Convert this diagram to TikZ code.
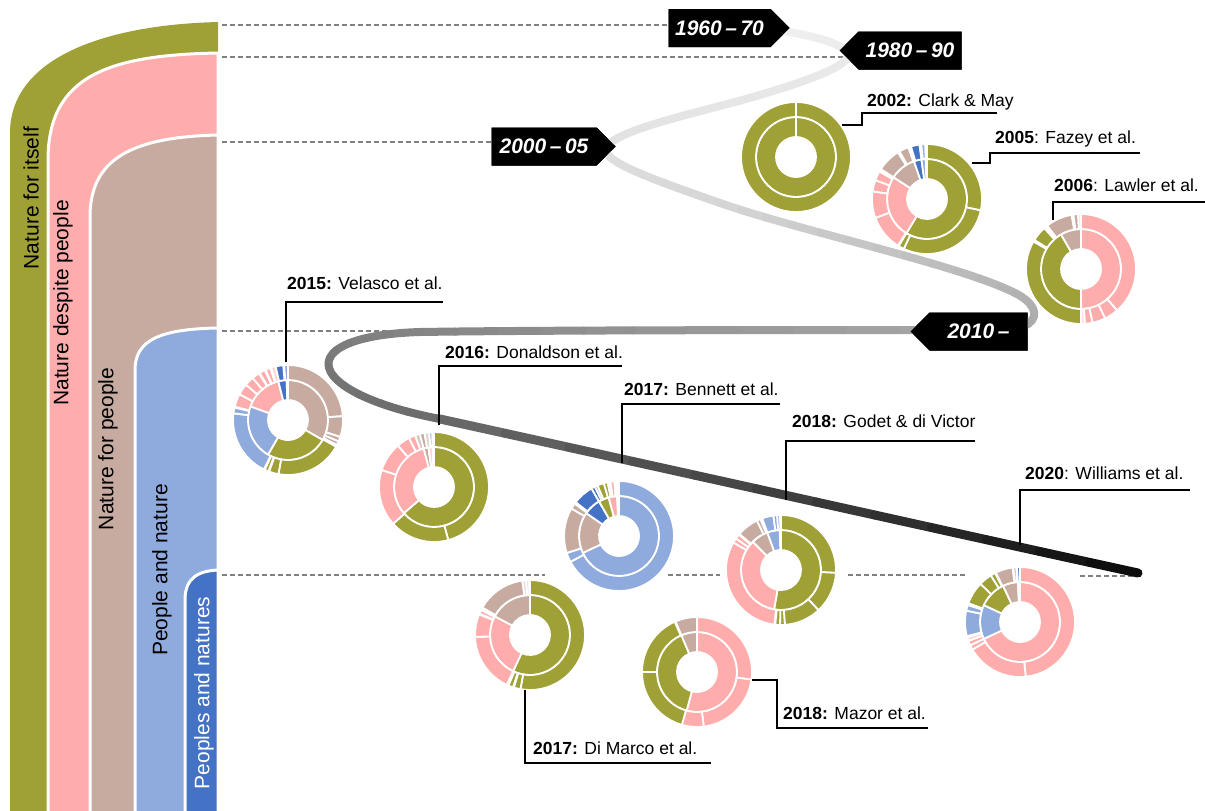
\documentclass[tikz,border=0pt]{standalone}
\usepackage{xcolor}
\usepackage{fontspec}
\setmainfont{Liberation Sans}
\usepackage{tikz}
\usetikzlibrary{shapes.symbols}
\definecolor{NI}{HTML}{9FA036}
\definecolor{ND}{HTML}{FFACAC}
\definecolor{NP}{HTML}{C7ABA0}
\definecolor{PN}{HTML}{8FAADC}
\definecolor{PS}{HTML}{4472C4}
\definecolor{DG}{HTML}{7F7F7F}
% ring piece: inner radius, outer radius, from, to (degrees clockwise from top), colour
\newcommand{\rpiece}[5]{\filldraw[fill=#5, draw=white, line width=1.8pt] (#3-90:#1) arc[start angle=#3-90, end angle=#4-90, radius=#1] -- (#4-90:#2) arc[start angle=#4-90, end angle=#3-90, radius=#2] -- cycle;}
\newcommand{\inring}[3]{\rpiece{20}{40}{#1}{#2}{#3}}
\newcommand{\outring}[3]{\rpiece{40}{55}{#1}{#2}{#3}}
% piece of the time line, grey from #5 to #6 percent black
\newcommand{\tlpiece}[6]{%
\foreach \k in {0,...,11}{%
\pgfmathsetmacro{\tA}{\k/12}\pgfmathsetmacro{\tB}{(\k+1)/12}%
\pgfmathsetmacro{\grv}{#5+(#6-#5)*(\k+0.5)/12}%
\pgfsetcolor{black!\grv}%
\pgfpathcurvebetweentime{\tA}{\tB}{\pgfpointxy#1}{\pgfpointxy#2}{\pgfpointxy#3}{\pgfpointxy#4}%
\pgfusepath{stroke}}}

\begin{document}
\begin{tikzpicture}[x=1pt, y=-1pt,
  band/.style={draw=white, line width=3pt},
  bandtext/.style={rotate=90, font=\fontsize{21}{24}\selectfont},
  era/.style={signal, fill=black, text=white, inner sep=0pt, minimum height=38pt, font=\bfseries\itshape\fontsize{21}{24}\selectfont},
  guide/.style={draw=DG, dash pattern=on 5pt off 3pt, line width=1.2pt},
  leader/.style={draw=black, line width=2pt},
  lab/.style={anchor=base west, inner sep=0pt, font=\fontsize{17.5}{21}\selectfont}]%
\useasboundingbox (0,0) rectangle (1205,811);%
% bands
\fill[NI] (10,815) -- (10,133) .. controls (10,60) and (100,25) .. (218,22) -- (218,815) -- cycle;%
\filldraw[band, fill=ND] (48,815) -- (48,160) .. controls (48,75) and (110,55) .. (218,53) -- (218,815) -- cycle;%
\filldraw[band, fill=NP] (90,815) -- (90,217) .. controls (90,160) and (130,137) .. (218,135) -- (218,815) -- cycle;%
\filldraw[band, fill=PN] (135,815) -- (135,370) .. controls (135,340) and (160,329) .. (218,328) -- (218,815) -- cycle;%
\filldraw[band, fill=PS] (185,815) -- (185,600) .. controls (185,578) and (198,571) .. (218,570) -- (218,815) -- cycle;%
\node[bandtext] (nfi) at (31,198) {Nature for itself};%
\node[bandtext] (ndp) at (63,303) {Nature despite people};%
\node[bandtext] (nfp) at (108,449) {Nature for people};%
\node[bandtext] (pan) at (162,570) {People and nature};%
\node[bandtext, text=white] (pans) at (204,693) {Peoples and natures};%
% era boxes (placed first so the guides can end on them)
\node[era, signal to=east, minimum width=121pt] (e60) at (719.5,28) {};%
\node[era, signal to=west, minimum width=122pt] (e80) at (910,50.5) {};%
\node[era, signal to=east, minimum width=124pt] (e00) at (544,146.5) {};%
\node[era, signal to=west, minimum width=117pt] (e10) at (978.5,331.5) {};%
% guides
\coordinate (g1) at (222,25);%
\coordinate (g2) at (222,57);%
\coordinate (g3) at (222,142);%
\coordinate (g4) at (222,331);%
\coordinate (g5) at (222,575);%
\draw[guide] (g1) -- (g1 -| e60.west);%
\draw[guide] (g2) -- ++(623,0);%
\draw[guide] (g3) -- (g3 -| e00.west);%
\draw[guide] (g4) -- ++(188,0);%
\draw[guide] (g5) -- ++(323,0) (g5) ++(446,0) -- ++(52,0) (g5) ++(626,0) -- ++(117,0) (g5) ++(858,1) -- ++(62,0);%
% time line
\begin{scope}[line width=8pt, line cap=round]%
\tlpiece{{777}{30}}{{815}{36}}{{846}{44}}{{848}{55}}{6}{8}%
\tlpiece{{848}{55}}{{850}{66}}{{800}{85}}{{720}{106}}{8}{10}%
\tlpiece{{720}{106}}{{650}{124}}{{600}{138}}{{607}{153}}{10}{12}%
\tlpiece{{607}{153}}{{612}{165}}{{660}{182}}{{720}{203}}{12}{16}%
\tlpiece{{720}{203}}{{800}{231}}{{960}{265}}{{1015}{293}}{16}{30}%
\tlpiece{{1015}{293}}{{1045}{308}}{{1040}{330}}{{1000}{330}}{30}{34}%
\tlpiece{{1000}{330}}{{800}{330}}{{550}{330}}{{420}{332}}{34}{48}%
\tlpiece{{420}{332}}{{290}{336}}{{300}{392}}{{440}{419}}{48}{58}%
\end{scope}%
\begin{scope}[line width=9pt, line cap=round]%
\tlpiece{{440}{419}}{{700}{476}}{{950}{532}}{{1138}{573}}{58}{96}%
\end{scope}%
\node[era, signal to=east, minimum width=121pt] at (e60) {1960\,–\,70};%
\node[era, signal to=west, minimum width=122pt] at (e80) {1980\,–\,90};%
\node[era, signal to=east, minimum width=124pt] at (e00) {2000\,–\,05};%
\node[era, signal to=west, minimum width=117pt] at (e10) {2010\,–};%
% donuts
\coordinate (dcm) at (796,157);%
\coordinate (dfz) at (927,199);%
\coordinate (dlw) at (1081,269);%
\coordinate (dvl) at (288,420);%
\coordinate (ddn) at (434,487);%
\coordinate (dbn) at (619,536);%
\coordinate (dgd) at (781,570);%
\coordinate (dwl) at (1020,622);%
\coordinate (ddm) at (530,635);%
\coordinate (dmz) at (697,672);%
\begin{scope}[shift={(dcm)}]% Clark & May
\inring{0}{360}{NI}\outring{0}{360}{NI}%
\end{scope}%
\begin{scope}[shift={(dfz)}]% Fazey
\inring{0}{211}{NI}\inring{211}{303}{ND}\inring{303}{341}{NP}\inring{341}{352}{PS}\inring{352}{358}{PN}%
\outring{0}{102}{NI}\outring{102}{205}{NI}\outring{205}{211}{NI}\outring{212}{250}{ND}\outring{250}{278}{ND}\outring{278}{290}{ND}\outring{290}{300}{ND}\outring{303}{328}{NP}\outring{330}{340}{NP}\outring{343}{352}{PS}\outring{354}{358}{PN}%
\end{scope}%
\begin{scope}[shift={(dlw)}]% Lawler
\inring{0}{180}{ND}\inring{180}{330}{NI}\inring{330}{360}{NP}%
\outring{0}{139}{ND}\outring{139}{154}{ND}\outring{154}{168}{ND}\outring{168}{176}{ND}\outring{176}{180}{ND!40}\outring{180}{300}{NI}\outring{302}{318}{NI}\outring{322}{350}{NP}\outring{352}{357}{NP}\outring{357}{360}{ND!40}%
\end{scope}%
\begin{scope}[shift={(dvl)}]% Velasco
\inring{0}{120}{NP}\inring{120}{210}{NI}\inring{210}{290}{PN}\inring{290}{346}{ND}\inring{346}{358}{PS}\inring{358}{360}{PN}%
\outring{0}{86}{NP}\outring{86}{108}{NP}\outring{108}{113}{NP}\outring{113}{117}{NP}\outring{119}{190}{NI}\outring{190}{200}{NI}\outring{201}{205}{NI}\outring{206}{277}{PN}\outring{277}{283}{PN}\outring{284}{298}{ND}\outring{298}{310}{ND}\outring{310}{320}{ND}\outring{320}{328}{ND}\outring{329}{335}{ND}\outring{336}{341}{ND}\outring{342}{347}{ND!50}\outring{347}{355}{PS}\outring{356}{360}{PN}%
\end{scope}%
\begin{scope}[shift={(ddn)}]% Donaldson
\inring{0}{229}{NI}\inring{229}{345}{ND}\inring{345}{352}{NP}\inring{352}{358}{ND!50}%
\outring{0}{165}{NI}\outring{165}{228}{NI}\outring{228}{288}{ND}\outring{288}{319}{ND}\outring{319}{333}{ND}\outring{333}{340}{ND}\outring{340}{345}{NP!70}\outring{345}{350}{NP}\outring{350}{355}{NP!50}\outring{355}{358}{PN}%
\end{scope}%
\begin{scope}[shift={(dbn)}]% Bennett
\inring{0}{245}{PN}\inring{245}{305}{NP}\inring{305}{330}{PS}\inring{330}{345}{NI}\inring{345}{357}{ND}%
\outring{0}{242}{PN}\outring{242}{252}{PN}\outring{252}{300}{NP}\outring{300}{306}{NP}\outring{308}{330}{PS}\outring{330}{334}{PS}\outring{334}{337}{PN}\outring{337}{344}{NI}\outring{344}{348}{NI}\outring{348}{350}{NI!40}\outring{351}{355}{ND}\outring{356}{358}{ND}%
\end{scope}%
\begin{scope}[shift={(dgd)}]% Godet & di Victor
\inring{0}{190}{NI}\inring{190}{315}{ND}\inring{315}{340}{NP}\inring{340}{358}{PN}%
\outring{0}{93}{NI}\outring{93}{137}{NI}\outring{137}{176}{NI}\outring{176}{181}{NI}\outring{181}{186}{NI}\outring{187}{300}{ND}\outring{300}{305}{ND}\outring{305}{310}{ND}\outring{311}{334}{NP}\outring{334}{338}{NP}\outring{340}{352}{PN}\outring{352}{356}{PN}\outring{356}{359}{PN}%
\end{scope}%
\begin{scope}[shift={(dwl)}]% Williams
\inring{0}{245}{ND}\inring{245}{295}{PN}\inring{295}{335}{NI}\inring{335}{357}{NP}\inring{357}{360}{PS}%
\outring{0}{174}{ND}\outring{174}{240}{ND}\outring{240}{245}{ND}\outring{245}{250}{ND}\outring{250}{254}{ND!50}\outring{255}{282}{PN}\outring{282}{288}{PN}\outring{290}{314}{NI}\outring{314}{328}{NI}\outring{328}{333}{NI}\outring{334}{352}{NP}\outring{353}{356}{NP}\outring{357}{360}{PS}%
\end{scope}%
\begin{scope}[shift={(ddm)}]% Di Marco
\inring{0}{205}{NI}\inring{205}{298}{ND}\inring{298}{360}{NP}%
\outring{0}{190}{NI}\outring{190}{197}{NI}\outring{198}{203}{NI}\outring{205}{268}{ND}\outring{268}{292}{ND}\outring{293}{297}{ND}\outring{298}{300}{ND!50}\outring{300}{352}{NP}\outring{352}{356}{NP!40}\outring{356}{359}{NP!40}%
\end{scope}%
\begin{scope}[shift={(dmz)}]% Mazor
\inring{0}{195}{ND}\inring{195}{337}{NI}\inring{337}{360}{NP}%
\outring{0}{98}{ND}\outring{98}{173}{ND}\outring{173}{196}{ND}\outring{196}{270}{NI}\outring{270}{336}{NI}\outring{337}{360}{NP}%
\end{scope}%
% labels
\node[lab] (lcm) at (867,106) {\textbf{2002:} Clark \& May};%
\node[lab] (lfz) at (995,143) {\textbf{2005}: Fazey et al.};%
\node[lab] (llw) at (1054,191) {\textbf{2006}: Lawler et al.};%
\node[lab] (lvl) at (287,289) {\textbf{2015:} Velasco et al.};%
\node[lab] (ldn) at (445,358) {\textbf{2016:} Donaldson et al.};%
\node[lab] (lbn) at (624,395) {\textbf{2017:} Bennett et al.};%
\node[lab] (lgd) at (792,427) {\textbf{2018:} Godet \& di Victor};%
\node[lab] (lwl) at (1025,479) {\textbf{2020}: Williams et al.};%
\node[lab] (ldm) at (533,754) {\textbf{2017:} Di Marco et al.};%
\node[lab] (lmz) at (783,719) {\textbf{2018:} Mazor et al.};%
% leaders
\coordinate (fcm) at (842,125);%
\coordinate (ffz) at (972,163);%
\coordinate (flw) at (1053,220);%
\coordinate (fvl) at (286,362);%
\coordinate (fdn) at (439,425);%
\coordinate (fbn) at (622,463);%
\coordinate (fgd) at (786,500);%
\coordinate (fwl) at (1020,545);%
\coordinate (fdm) at (525,690);%
\coordinate (fmz) at (752,680);%
\draw[leader] (fcm) -- ++(20,0) -- ++(0,-12) -- ++(135,0);%
\draw[leader] (ffz) -- ++(18,0) -- ++(0,-10) -- ++(150,0);%
\draw[leader] (flw) -- ++(0,-18) -- ++(152,0);%
\draw[leader] (fvl) -- ++(0,-60) -- ++(157,0);%
\draw[leader] (fdn) -- ++(0,-59) -- ++(183,0);%
\draw[leader] (fbn) -- ++(0,-59) -- ++(158,0);%
\draw[leader] (fgd) -- ++(0,-59) -- ++(189,0);%
\draw[leader] (fwl) -- ++(0,-55) -- ++(170,0);%
\draw[leader] (fdm) -- ++(0,73) -- ++(186,0);%
\draw[leader] (fmz) -- ++(25,0) -- ++(0,48) -- ++(151,0);%
\end{tikzpicture}
\end{document}
